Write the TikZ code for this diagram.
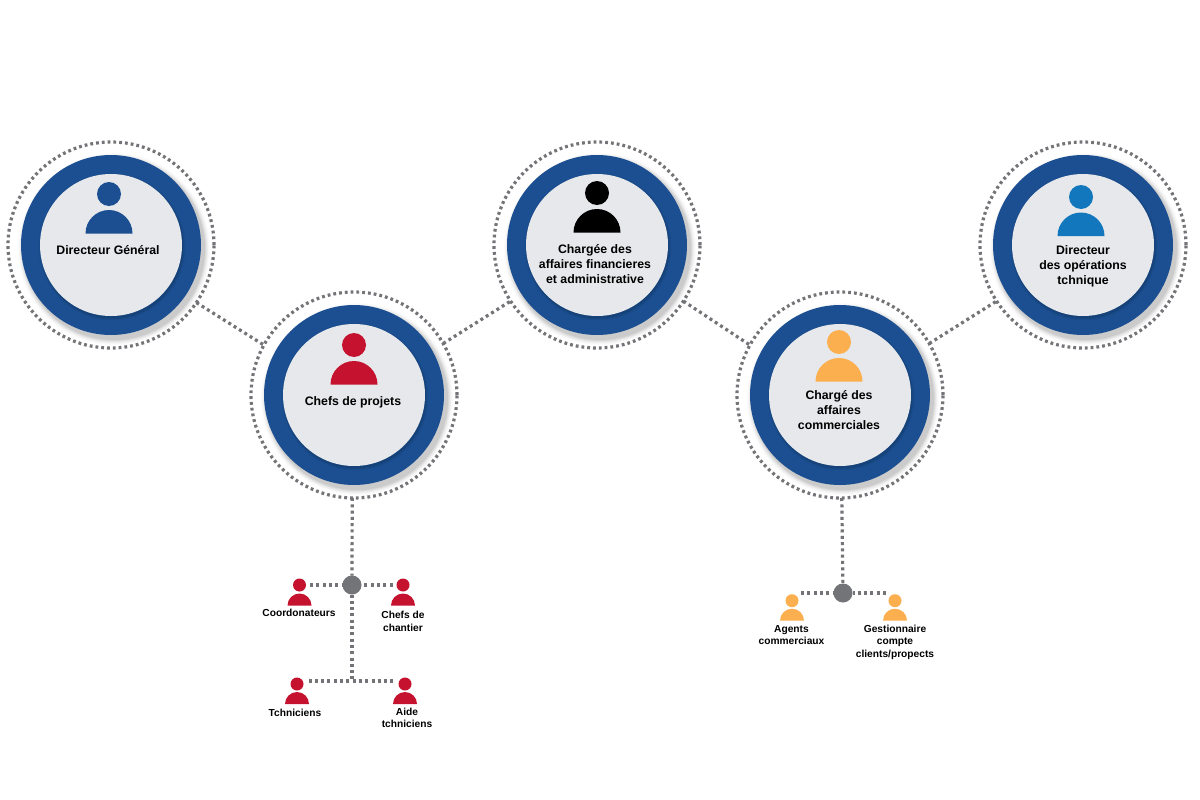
\documentclass[tikz,border=0pt]{standalone}
\usepackage{fontspec}
\setmainfont{Liberation Sans}
\definecolor{ringblue}{HTML}{1B4F91}
\definecolor{innergray}{HTML}{E6E8EB}
\definecolor{dotgray}{HTML}{737477}
\definecolor{pblue}{HTML}{1B4F91}
\definecolor{pred}{HTML}{C4122F}
\definecolor{pblack}{HTML}{000000}
\definecolor{pcyan}{HTML}{1277BC}
\definecolor{porange}{HTML}{FCAF4F}
\tikzset{
  x=1pt,y=-1pt,
  dotline/.style={draw=dotgray,line width=3.2pt,dash pattern=on 3pt off 3.3pt},
  ringdots/.style={circle,draw=dotgray,line width=3.2pt,dash pattern=on 2.8pt off 3pt,minimum size=206pt,inner sep=0pt,outer sep=0pt},
  disc/.style={circle,fill=ringblue,minimum size=180pt,inner sep=0pt,outer sep=0pt},
  core/.style={circle,fill=innergray,minimum size=142pt,inner sep=0pt,outer sep=0pt},
  hubdot/.style={circle,fill=dotgray,minimum size=19pt,inner sep=0pt,outer sep=0pt},
  biglabel/.style={font=\fontsize{12.3}{15}\selectfont\bfseries,align=center,text=black,inner sep=0pt},
  smalllabel/.style={font=\fontsize{10.2}{12.6}\selectfont\bfseries,align=center,text=black,inner sep=0pt},
  headbig/.style={circle,minimum size=24pt,inner sep=0pt,outer sep=0pt},
  headsmall/.style={circle,minimum size=13pt,inner sep=0pt,outer sep=0pt},
}
% #1 name, #2 x, #3 y
\newcommand{\staffdisc}[3]{%
  \foreach \r/\o in {96/0.015,95/0.02,94/0.03,93/0.04,92/0.05,91/0.06}{%
    \fill[black,opacity=\o] (#2+3,#3+4) circle (\r);}
  \node[disc] (#1d) at (#2,#3) {};
  \node[ringdots] (#1r) at (#2,#3) {};
  \foreach \r/\o in {73.5/0.03,72.5/0.05,71.5/0.07}{%
    \fill[black,opacity=\o] (#2+1,#3+2) circle (\r);}
  \node[core] (#1c) at (#2,#3) {};
}
% #1 name, #2 colour, #3 x, #4 head y, #5 flat y of the body
\newcommand{\bigperson}[5]{%
  \node[headbig,fill=#2] (#1) at (#3,#4) {};
  \fill[#2] (#3-23.5,#5) arc[start angle=180,end angle=360,radius=23.5] -- cycle;
}
\newcommand{\smallperson}[5]{%
  \node[headsmall,fill=#2] (#1) at (#3,#4) {};
  \fill[#2] (#3-12,#5) arc[start angle=180,end angle=360,radius=12] -- cycle;
}
\begin{document}
\begin{tikzpicture}
\useasboundingbox (0,0) rectangle (1200,800);
\fill[white] (0,0) rectangle (1200,800);
\staffdisc{A}{111}{245}
\staffdisc{B}{354}{395}
\staffdisc{C}{597}{245}
\staffdisc{D}{840}{395}
\staffdisc{E}{1083}{245}
% links between the main circles
\draw[dotline] (Ar.-34) -- (Br.151);
\draw[dotline] (Br.30) -- (Cr.213);
\draw[dotline] (Cr.-33) -- (Dr.151);
\draw[dotline] (Dr.30) -- (Er.213);
% people in the main circles
\bigperson{pA}{pblue}{109}{194}{233.5}
\bigperson{pB}{pred}{354}{345}{384.5}
\bigperson{pC}{pblack}{597}{193}{232.5}
\bigperson{pD}{porange}{839}{342}{381.5}
\bigperson{pE}{pcyan}{1081}{197}{236}
\node[biglabel] (lA) at (108,250) {Directeur Général};
\node[biglabel] (lB) at (353,402) {Chefs de projets};
\node[biglabel] (lC) at (595,264.5) {Chargée des\\affaires financieres\\et administrative};
\node[biglabel] (lD) at (839,410.5) {Chargé des\\affaires\\commerciales};
\node[biglabel] (lE) at (1083,266) {Directeur\\des opérations\\tchnique};
% project branch
\node[hubdot] (hubB) at (352,585) {};
\coordinate (joinB) at (352,681);
\smallperson{s1}{pred}{299.5}{585}{605.5}
\smallperson{s2}{pred}{403}{585}{605.5}
\smallperson{s3}{pred}{297}{684}{704}
\smallperson{s4}{pred}{405}{684}{704}
\draw[dotline] (Br.269) -- (hubB);
\draw[dotline] (hubB) -- (joinB);
\coordinate (j1) at (s1.east |- hubB);
\coordinate (j2) at (s2.west |- hubB);
\coordinate (j3) at (s3.east |- joinB);
\coordinate (j4) at (s4.west |- joinB);
\draw[dotline,shorten <=4pt] (j1) -- (hubB);
\draw[dotline,shorten <=4pt] (j2) -- (hubB);
\draw[dotline,shorten <=5pt,shorten >=5pt] (j3) -- (j4);
\node[smalllabel] (t1) at (299,613) {Coordonateurs};
\node[smalllabel] (t2) at (403,621.5) {Chefs de\\chantier};
\node[smalllabel] (t3) at (295,713) {Tchniciens};
\node[smalllabel] (t4) at (407,718) {Aide\\tchniciens};
% commercial branch
\node[hubdot] (hubD) at (843,593) {};
\smallperson{s5}{porange}{792}{600.7}{620.7}
\smallperson{s6}{porange}{895}{600.7}{620.7}
\coordinate (k1) at (801,593);
\coordinate (k2) at (886,593);
\draw[dotline] (Dr.271.7) -- (hubD);
\draw[dotline] (k1) -- (hubD);
\draw[dotline] (k2) -- (hubD);
\node[smalllabel] (t5) at (791.5,635) {Agents\\commerciaux};
\node[smalllabel] (t6) at (895,642) {Gestionnaire\\compte\\clients/propects};
\end{tikzpicture}
\end{document}
